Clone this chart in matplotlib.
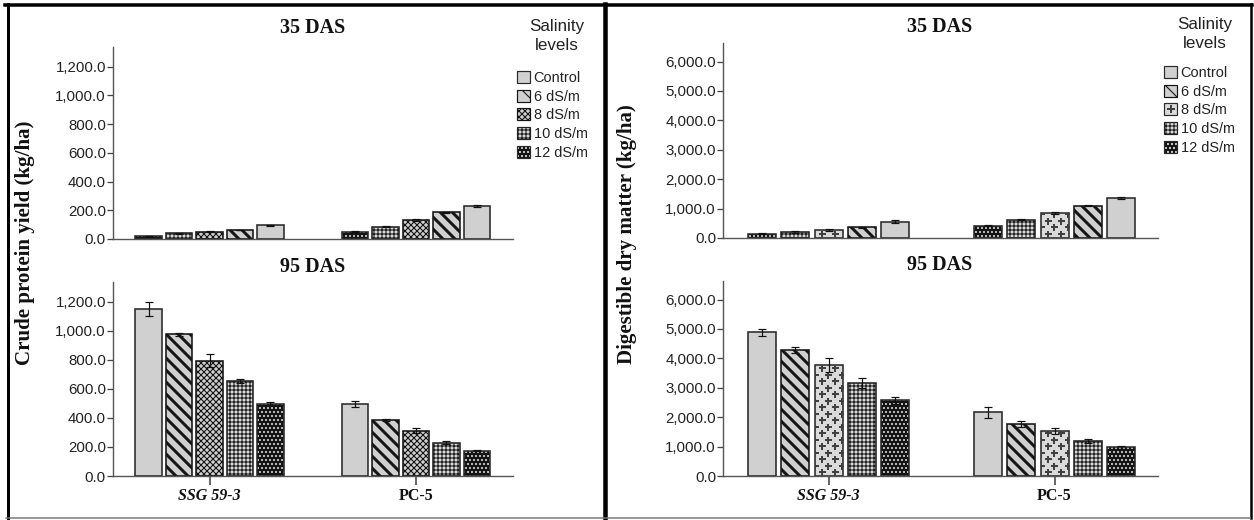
import matplotlib
matplotlib.use('Agg')
import matplotlib.pyplot as plt
import numpy as np
from matplotlib.patches import Patch
from matplotlib.lines import Line2D
from matplotlib.legend_handler import HandlerTuple
from matplotlib.ticker import FuncFormatter

# ---------------- data (order follows `levels`) ----------------
levels = ['Control', '6 dS/m', '8 dS/m', '10 dS/m', '12 dS/m']
genotypes = ['SSG 59-3', 'PC-5']
stages = ['35 DAS', '95 DAS']

# Crude protein yield (kg/ha)
cp_35_ssg = [95, 63, 51, 40, 19]
cp_35_ssg_err = [5, 3, 4, 3, 2]
cp_35_pc = [232, 186, 132, 86, 51]
cp_35_pc_err = [7, 3, 5, 4, 3]
cp_95_ssg = [1150, 977, 793, 655, 499]
cp_95_ssg_err = [45, 10, 45, 15, 12]
cp_95_pc = [494, 384, 313, 230, 175]
cp_95_pc_err = [20, 8, 15, 8, 5]

# Digestible dry matter (kg/ha)
ddm_35_ssg = [555, 370, 280, 205, 145]
ddm_35_ssg_err = [50, 15, 40, 20, 10]
ddm_35_pc = [1350, 1100, 840, 615, 410]
ddm_35_pc_err = [40, 15, 30, 20, 15]
ddm_95_ssg = [4890, 4280, 3780, 3170, 2570]
ddm_95_ssg_err = [120, 110, 230, 170, 120]
ddm_95_pc = [2160, 1755, 1530, 1190, 975]
ddm_95_pc_err = [190, 100, 110, 70, 40]

cp_ticks = [0, 200, 400, 600, 800, 1000, 1200]
ddm_ticks = [0, 1000, 2000, 3000, 4000, 5000, 6000]

# ---------------- figure ----------------
W, H = 1254, 520
DPI = 72
fig = plt.figure(figsize=(W / DPI, H / DPI), dpi=DPI)
fig.patch.set_facecolor('white')


def fx(x):
    return x / W


def fy(y):
    return 1 - y / H


def add_ax(x0, x1, ytop, ybot):
    return fig.add_axes([fx(x0), fy(ybot), (x1 - x0) / W, (ybot - ytop) / H])


SANS = 'Liberation Sans'
SERIF = 'Liberation Serif'
EDGE = '#2a2a2a'
GRAY = '#d0d0d0'

H6 = '\\\\'
H8 = 'xxxx'
H10 = '+++'
H12 = '...'


def set_hlw(p, w):
    if hasattr(p, 'set_hatch_linewidth'):
        p.set_hatch_linewidth(w)
    else:
        p._hatch_linewidth = w


def hatched_bar(ax, x, h, width, fc, ec, hatch, hlw, lw=1.6, z=2):
    with plt.rc_context({'hatch.linewidth': hlw}):
        b = ax.bar(x, h, width, color=fc, edgecolor=ec, hatch=hatch,
                   linewidth=lw, zorder=z)
    for p in b:
        set_hlw(p, hlw)
    return b


def styled_bar(ax, x, h, width, level, right):
    """Draw one bar of a given salinity level with its fill pattern."""
    if level == 0:
        ax.bar(x, h, width, color=GRAY, edgecolor=EDGE, linewidth=1.6, zorder=2)
    elif level == 1:
        hatched_bar(ax, x, h, width, GRAY, '#151515', H6, 3.0)
    elif level == 2 and not right:
        hatched_bar(ax, x, h, width, GRAY, '#151515', H8, 1.1)
    elif level == 2 and right:
        b = ax.bar(x, h, width, color='#dadada', edgecolor=EDGE, linewidth=1.6, zorder=2)
        rect = b[0]
        # plus-sign pattern, staggered grid in pixel units
        bb = ax.get_window_extent()
        ypx = (ax.get_ylim()[1] - ax.get_ylim()[0]) / bb.height
        xpx = (ax.get_xlim()[1] - ax.get_xlim()[0]) / bb.width
        xs, ys = [], []
        j = 0
        yy = 4.0
        while yy * ypx < h:
            offs = [7.0, 20.5] if j % 2 == 0 else [0.0, 13.5, 27.0]
            for o in offs:
                xs.append(x - width / 2 + o * xpx)
                ys.append(yy * ypx)
            yy += 6.5
            j += 1
        ln, = ax.plot(xs, ys, ls='none', marker='+', ms=7, mew=2.0,
                      color='#404040', zorder=2.5)
        ln.set_clip_path(rect)
    elif level == 3:
        hatched_bar(ax, x, h, width, '#d8d8d8', '#222222', H10, 1.1)
    else:
        hatched_bar(ax, x, h, width, '#141414', 'white', H12, 1.0, lw=0)
        ax.bar(x, h, width, color='none', edgecolor=EDGE, linewidth=1.6, zorder=2.2)


def draw_panel(ax, vals, errs, order, centers, spacing, width, ymax, ticks,
               right, show_x):
    ax.set_xlim(0, ax.get_window_extent().width)  # x data units = pixels
    ax.set_ylim(0, ymax)
    for gi in range(len(genotypes)):
        for k, lv in enumerate(order):
            x = centers[gi] + (k - 2) * spacing
            styled_bar(ax, x, vals[gi][lv], width, lv, right)
            ax.errorbar(x, vals[gi][lv], yerr=errs[gi][lv], fmt='none',
                        ecolor='#111111', elinewidth=1.2, capsize=4,
                        capthick=1.2, zorder=3)
    for s in ['top', 'right']:
        ax.spines[s].set_visible(False)
    for s in ['left', 'bottom']:
        ax.spines[s].set_color('#555555')
        ax.spines[s].set_linewidth(1.4)
    ax.set_yticks(ticks)
    ax.yaxis.set_major_formatter(FuncFormatter(lambda v, _: f'{v:,.1f}'))
    ax.tick_params(axis='y', length=6, width=1.3, color='#444444',
                   labelsize=15, labelcolor='#222222', pad=1)
    for t in ax.get_yticklabels():
        t.set_fontfamily(SANS)
    if show_x:
        ax.set_xticks(centers)
        ax.set_xticklabels(genotypes)
        ax.tick_params(axis='x', length=9, width=1.6, color='#444444', pad=3)
        for i, t in enumerate(ax.get_xticklabels()):
            t.set_fontfamily(SERIF)
            t.set_fontweight('bold')
            t.set_fontsize(16)
            t.set_color('#111111')
            if i == 0:
                t.set_fontstyle('italic')
    else:
        ax.set_xticks([])
    ax.patch.set_alpha(0)


order_35 = [4, 3, 2, 1, 0]
order_95 = [0, 1, 2, 3, 4]

L_centers = [96.5, 303.0]
L_space, L_width = 30.4, 26.5
R_centers = [105.5, 331.5]
R_space, R_width = 33.4, 28.0

ax1 = add_ax(113, 513, 47, 239)
draw_panel(ax1, [cp_35_ssg, cp_35_pc], [cp_35_ssg_err, cp_35_pc_err], order_35,
           L_centers, L_space, L_width, 1336, cp_ticks, False, False)
ax2 = add_ax(113, 513, 282, 476)
draw_panel(ax2, [cp_95_ssg, cp_95_pc], [cp_95_ssg_err, cp_95_pc_err], order_95,
           L_centers, L_space, L_width, 1336, cp_ticks, False, True)
ax3 = add_ax(723, 1158, 43, 238)
draw_panel(ax3, [ddm_35_ssg, ddm_35_pc], [ddm_35_ssg_err, ddm_35_pc_err], order_35,
           R_centers, R_space, R_width, 6630, ddm_ticks, True, False)
ax4 = add_ax(723, 1158, 281, 476)
draw_panel(ax4, [ddm_95_ssg, ddm_95_pc], [ddm_95_ssg_err, ddm_95_pc_err], order_95,
           R_centers, R_space, R_width, 6630, ddm_ticks, True, True)

# ---------------- titles & labels ----------------
tkw = dict(ha='center', va='center', fontfamily=SERIF, fontweight='bold',
           fontsize=20, color='#111111')
fig.text(fx(313), fy(28), stages[0], **tkw)
fig.text(fx(313), fy(267), stages[1], **tkw)
fig.text(fx(940), fy(27), stages[0], **tkw)
fig.text(fx(940), fy(265), stages[1], **tkw)

lkw = dict(tkw, fontsize=21)
fig.text(fx(25), fy(243), 'Crude protein yield (kg/ha)', rotation=90, **lkw)
fig.text(fx(627), fy(234), 'Digestible dry matter (kg/ha)', rotation=90, **lkw)


# ---------------- legends ----------------
def legend_handles(right):
    hs = [Patch(facecolor=GRAY, edgecolor=EDGE, linewidth=1.2)]
    p6 = Patch(facecolor=GRAY, edgecolor='#151515', hatch='\\', linewidth=1.2)
    set_hlw(p6, 3.0)
    hs.append(p6)
    if right:
        hs.append((Patch(facecolor='#dadada', edgecolor=EDGE, linewidth=1.2),
                   Line2D([], [], ls='none', marker='+', ms=8, mew=2.0, color='#404040')))
    else:
        p8 = Patch(facecolor=GRAY, edgecolor='#151515', hatch=H8, linewidth=1.2)
        set_hlw(p8, 1.1)
        hs.append(p8)
    p10 = Patch(facecolor='#d8d8d8', edgecolor='#222222', hatch=H10, linewidth=1.2)
    set_hlw(p10, 1.1)
    hs.append(p10)
    p12 = Patch(facecolor='#141414', edgecolor='white', hatch=H12, linewidth=0)
    set_hlw(p12, 1.0)
    hs.append((p12, Patch(facecolor='none', edgecolor=EDGE, linewidth=1.2)))
    return hs


for right, (lx, tx, ty, ey) in enumerate([(517, 557, 27, 71), (1164, 1205, 25, 66)]):
    fig.text(fx(tx), fy(ty), 'Salinity', ha='center', va='center',
             fontfamily=SANS, fontsize=17, color='#222222')
    fig.text(fx(tx), fy(ty + 19), 'levels', ha='center', va='center',
             fontfamily=SANS, fontsize=17, color='#222222')
    with plt.rc_context({'hatch.linewidth': 1.1}):
        fig.legend(legend_handles(bool(right)), levels, loc='upper left',
                   bbox_to_anchor=(fx(lx), fy(ey)), frameon=False,
                   prop={'family': SANS, 'size': 14.5}, labelcolor='#222222',
                   handlelength=0.9, handleheight=0.9, handletextpad=0.25,
                   labelspacing=0.32, borderpad=0, borderaxespad=0,
                   handler_map={tuple: HandlerTuple(ndivide=1)})


# ---------------- panel borders ----------------
def hline(y, x0, x1, lw, c='black'):
    fig.add_artist(Line2D([fx(x0), fx(x1)], [fy(y), fy(y)], lw=lw, color=c,
                          transform=fig.transFigure))


def vline(x, y0, y1, lw, c='black'):
    fig.add_artist(Line2D([fx(x), fx(x)], [fy(y0), fy(y1)], lw=lw, color=c,
                          transform=fig.transFigure))


hline(5, 5, 1252, 3.5)
vline(7.5, 4, 518, 3)
vline(604.5, 4, 520, 4.5)
vline(1250.5, 4, 518, 2.5)
hline(518, 6, 1250, 1.5, '#777777')

fig.savefig('out.png', dpi=DPI)
